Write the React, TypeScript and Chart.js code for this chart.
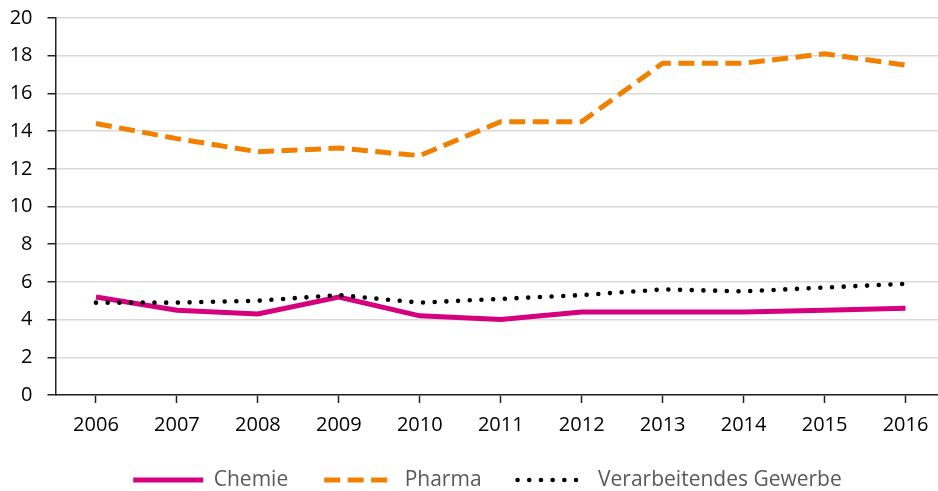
import React, { useEffect, useRef } from "react";
import { Chart, registerables } from "chart.js";

Chart.register(...registerables);

const years = ["2006", "2007", "2008", "2009", "2010", "2011", "2012", "2013", "2014", "2015", "2016"];
const chemie = [5.2, 4.5, 4.3, 5.2, 4.2, 4.0, 4.4, 4.4, 4.4, 4.5, 4.6];
const pharma = [14.4, 13.6, 12.9, 13.1, 12.7, 14.5, 14.5, 17.6, 17.6, 18.1, 17.5];
const gewerbe = [4.9, 4.9, 5.0, 5.3, 4.9, 5.1, 5.3, 5.6, 5.5, 5.7, 5.9];
const yMin = 0;
const yMax = 20;
const yStep = 2;

const LEGEND_FONT = 21;
const LEGEND_PAD = 36;

const legendShift = {
  id: "legendShift",
  afterLayout(chart: any) {
    const l = chart.legend;
    if (!l) return;
    const dx = 14.5;
    const cy = l.top + LEGEND_PAD + LEGEND_FONT / 2;
    const dy = 480 - cy;
    l.left += dx;
    l.right += dx;
    l.top += dy;
    l.bottom += dy;
  },
};

export default function App() {
  const ref = useRef<HTMLCanvasElement | null>(null);

  useEffect(() => {
    if (!ref.current) return;
    Chart.defaults.font.family = "'Open Sans', sans-serif";
    Chart.defaults.font.size = 20;
    const chart = new Chart(ref.current, {
      type: "line",
      plugins: [legendShift],
      data: {
        labels: years,
        datasets: [
          {
            label: "Chemie",
            data: chemie,
            borderColor: "#d6007f",
            backgroundColor: "#d6007f",
            borderWidth: 5,
            borderCapStyle: "butt",
            pointRadius: 0,
            tension: 0,
            order: 2,
          },
          {
            label: "Pharma",
            data: pharma,
            borderColor: "#f28000",
            backgroundColor: "#f28000",
            borderWidth: 5,
            borderDash: [16, 7.5],
            borderCapStyle: "butt",
            pointRadius: 0,
            tension: 0,
            order: 1,
          },
          {
            label: "Verarbeitendes Gewerbe",
            data: gewerbe,
            borderColor: "#000000",
            backgroundColor: "#000000",
            borderWidth: 4.6,
            borderDash: [0, 11.7],
            borderCapStyle: "round",
            pointRadius: 0,
            tension: 0,
            order: 0,
          },
        ],
      },
      options: {
        animation: false,
        responsive: false,
        layout: { padding: { left: 0, right: 0, top: 18, bottom: 0 } },
        plugins: {
          tooltip: { enabled: false },
          legend: {
            position: "bottom",
            labels: {
              usePointStyle: true,
              pointStyleWidth: 70,
              padding: LEGEND_PAD,
              color: "#595959",
              font: { size: LEGEND_FONT },
              sort: (a: any, b: any) => a.datasetIndex - b.datasetIndex,
              generateLabels: (c: any) =>
                c.data.datasets.map((ds: any, i: number) => ({
                  text: ds.label,
                  fillStyle: ds.borderColor,
                  strokeStyle: ds.borderColor,
                  lineWidth: ds.borderWidth,
                  lineDash: ds.borderDash || [],
                  lineCap: ds.borderCapStyle || "butt",
                  pointStyle: "line",
                  fontColor: "#595959",
                  hidden: false,
                  datasetIndex: i,
                })),
            },
          },
        },
        scales: {
          x: {
            type: "category",
            offset: true,
            grid: {
              display: true,
              drawOnChartArea: false,
              drawTicks: true,
              tickLength: 8,
              tickColor: "#222",
              tickWidth: 1.5,
              offset: false,
            },
            border: { display: true, color: "#222", width: 1.5 },
            ticks: { color: "#000", padding: 10.5, maxRotation: 0, font: { size: 20 } },
            afterFit: (s: any) => {
              s.height = 45;
              s.paddingLeft = 0;
              s.paddingRight = 0;
            },
          },
          y: {
            min: yMin,
            max: yMax,
            grid: {
              color: "#d9d9d9",
              lineWidth: 1.5,
              drawTicks: true,
              tickLength: 8,
              tickColor: "#222",
              tickWidth: 1.5,
            },
            border: { display: true, color: "#222", width: 1.5 },
            ticks: { stepSize: yStep, color: "#000", padding: 15, font: { size: 20 } },
            afterFit: (s: any) => {
              s.width = 55.5;
              s.paddingTop = 0;
              s.paddingBottom = 0;
            },
          },
        },
      },
    });
    return () => chart.destroy();
  }, []);

  return (
    <div style={{ position: "absolute", left: 0, top: 0, width: 938, height: 491, overflow: "hidden", background: "#fff" }}>
      <canvas ref={ref} width={946} height={507} style={{ display: "block", width: 946, height: 507 }} />
    </div>
  );
}
